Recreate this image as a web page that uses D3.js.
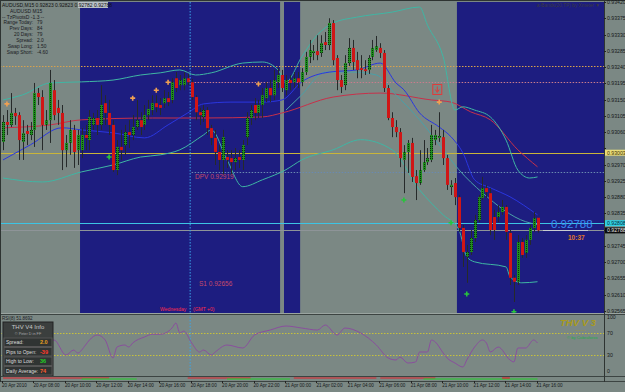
<!DOCTYPE html>
<html>
<head>
<meta charset="utf-8">
<script src="https://cdn.jsdelivr.net/npm/d3@7"></script>
<style>
  html, body { margin: 0; padding: 0; background: #7b8884; }
  svg { display: block; font-family: "Liberation Sans", Arial, sans-serif; }
</style>
</head>
<body>
<svg id="chart" width="625" height="392"></svg>
<script>
// AUDUSD M15, 20 Apr 2010 06:00 -> 21 Apr 16:00, one entry per bar
const open = [0.93033,0.93088,0.93080,0.93113,0.93107,0.93033,0.93063,0.93052,0.93066,0.93168,
  0.93157,0.93080,0.93093,0.93176,0.93127,0.93113,0.93010,0.93030,0.93066,0.93010,
  0.93010,0.93052,0.93038,0.93080,0.93099,0.93080,0.93140,0.93113,0.93080,0.92955,
  0.93019,0.93024,0.93060,0.93052,0.93074,0.93093,0.93080,0.93107,0.93121,0.93140,
  0.93135,0.93140,0.93154,0.93149,0.93209,0.93190,0.93190,0.93209,0.93198,0.93157,
  0.93115,0.93102,0.93121,0.93071,0.93044,0.93005,0.92983,0.92991,0.92988,0.92977,
  0.92991,0.92983,0.93046,0.93099,0.93135,0.93113,0.93135,0.93154,0.93182,0.93162,
  0.93198,0.93218,0.93176,0.93204,0.93198,0.93209,0.93198,0.93226,0.93268,0.93279,
  0.93284,0.93279,0.93309,0.93301,0.93362,0.93265,0.93204,0.93190,0.93251,0.93293,
  0.93259,0.93237,0.93234,0.93232,0.93268,0.93287,0.93293,0.93279,0.93182,0.93099,
  0.93074,0.93060,0.92983,0.93005,0.93030,0.92938,0.92919,0.92955,0.92977,0.92983,
  0.93038,0.93044,0.93046,0.92988,0.92908,0.92919,0.92880,0.92795,0.92715,0.92728,
  0.92767,0.92817,0.92878,0.92905,0.92891,0.92825,0.92825,0.92839,0.92853,0.92781,
  0.92657,0.92646,0.92756,0.92726,0.92762,0.92795,0.92823];
const high = [0.93107,0.93121,0.93168,0.93127,0.93115,0.93093,0.93080,0.93088,0.93196,0.93182,
  0.93176,0.93121,0.93232,0.93204,0.93149,0.93135,0.93052,0.93093,0.93080,0.93066,
  0.93071,0.93080,0.93121,0.93113,0.93121,0.93190,0.93162,0.93149,0.93093,0.93038,
  0.93066,0.93080,0.93093,0.93107,0.93149,0.93115,0.93135,0.93149,0.93162,0.93162,
  0.93154,0.93176,0.93171,0.93209,0.93226,0.93218,0.93226,0.93221,0.93207,0.93162,
  0.93127,0.93135,0.93129,0.93080,0.93066,0.93024,0.93066,0.93010,0.93010,0.93016,
  0.93010,0.93038,0.93115,0.93135,0.93154,0.93149,0.93182,0.93198,0.93204,0.93232,
  0.93237,0.93232,0.93218,0.93218,0.93226,0.93226,0.93237,0.93282,0.93315,0.93301,
  0.93328,0.93328,0.93337,0.93375,0.93370,0.93273,0.93218,0.93273,0.93320,0.93315,
  0.93282,0.93273,0.93259,0.93273,0.93315,0.93326,0.93306,0.93287,0.93190,0.93115,
  0.93093,0.93071,0.93024,0.93038,0.93044,0.92955,0.93010,0.93038,0.93016,0.93080,
  0.93066,0.93115,0.93066,0.92997,0.92927,0.92933,0.92886,0.92803,0.92748,0.92789,
  0.92831,0.92886,0.92936,0.92914,0.92905,0.92845,0.92858,0.92872,0.92858,0.92789,
  0.92665,0.92775,0.92767,0.92775,0.92803,0.92839,0.92823];
const low = [0.93010,0.93052,0.93074,0.93080,0.92983,0.92983,0.93024,0.93038,0.93019,0.93135,
  0.93010,0.93066,0.93030,0.93093,0.93080,0.92955,0.92963,0.92997,0.92961,0.92969,
  0.92988,0.93010,0.93010,0.93066,0.93052,0.93066,0.93080,0.93052,0.92950,0.92941,
  0.92983,0.92997,0.93016,0.93038,0.93066,0.93052,0.93066,0.93093,0.93107,0.93115,
  0.93107,0.93127,0.93132,0.93140,0.93171,0.93176,0.93176,0.93190,0.93149,0.93093,
  0.93080,0.93088,0.93052,0.93024,0.92969,0.92955,0.92941,0.92961,0.92941,0.92955,
  0.92961,0.92955,0.93024,0.93080,0.93093,0.93099,0.93099,0.93143,0.93143,0.93149,
  0.93182,0.93171,0.93162,0.93176,0.93182,0.93182,0.93187,0.93218,0.93251,0.93259,
  0.93259,0.93268,0.93287,0.93287,0.93245,0.93176,0.93168,0.93176,0.93243,0.93232,
  0.93209,0.93209,0.93218,0.93221,0.93259,0.93282,0.93265,0.93171,0.93093,0.93046,
  0.93046,0.92963,0.92891,0.92947,0.92922,0.92872,0.92914,0.92950,0.92969,0.92977,
  0.93024,0.93033,0.92969,0.92900,0.92886,0.92858,0.92784,0.92687,0.92643,0.92720,
  0.92756,0.92811,0.92872,0.92878,0.92775,0.92762,0.92811,0.92831,0.92762,0.92637,
  0.92590,0.92637,0.92712,0.92712,0.92748,0.92784,0.92782];
const close = [0.93088,0.93080,0.93113,0.93104,0.93038,0.93057,0.93055,0.93066,0.93168,0.93157,
  0.93080,0.93093,0.93196,0.93107,0.93113,0.93010,0.93030,0.93066,0.93005,0.93052,
  0.93052,0.93044,0.93102,0.93099,0.93080,0.93135,0.93113,0.93080,0.92955,0.93019,
  0.93010,0.93060,0.93052,0.93074,0.93093,0.93074,0.93107,0.93124,0.93140,0.93129,
  0.93127,0.93154,0.93143,0.93198,0.93182,0.93204,0.93209,0.93198,0.93157,0.93115,
  0.93107,0.93121,0.93071,0.93044,0.93005,0.92983,0.93046,0.92983,0.92977,0.92988,
  0.92983,0.93024,0.93099,0.93121,0.93113,0.93135,0.93162,0.93182,0.93162,0.93204,
  0.93218,0.93182,0.93204,0.93196,0.93209,0.93198,0.93226,0.93268,0.93287,0.93284,
  0.93273,0.93306,0.93301,0.93362,0.93259,0.93204,0.93185,0.93251,0.93293,0.93254,
  0.93232,0.93232,0.93229,0.93265,0.93293,0.93298,0.93279,0.93182,0.93099,0.93074,
  0.93060,0.92988,0.93005,0.93030,0.92936,0.92919,0.92955,0.92977,0.92988,0.93052,
  0.93052,0.93049,0.92988,0.92914,0.92914,0.92880,0.92795,0.92728,0.92728,0.92767,
  0.92817,0.92880,0.92905,0.92894,0.92789,0.92789,0.92839,0.92853,0.92784,0.92657,
  0.92646,0.92756,0.92720,0.92762,0.92795,0.92822,0.92788];

// indicator lines at selected bars
const upperIdx = [0,5,12,20,28,35,40,45,49,53,61,66,70,72,76,80,84,90,99,106,108,112,115,117,120,124,128,131,134,136];
const upperVal = [0.93149,0.93163,0.93196,0.93199,0.93204,0.93218,0.93224,0.93232,0.93218,0.93224,0.93251,0.93254,0.93232,0.93199,0.93268,0.93329,0.93362,0.93378,0.93392,0.93406,0.93356,0.93268,0.93121,0.93130,0.93121,0.93102,0.93038,0.92955,0.92933,0.92936];
const lowerIdx = [0,10,20,28,35,40,45,51,53,57,61,66,72,76,84,91,99,106,112,116,118,120,128,129,132,136];
const lowerVal = [0.92933,0.92922,0.92950,0.92969,0.92991,0.92997,0.93011,0.93052,0.93066,0.92983,0.92909,0.92928,0.92956,0.92983,0.93011,0.93039,0.93011,0.92900,0.92831,0.92790,0.92715,0.92701,0.92687,0.92660,0.92643,0.92646];
const innerIdx = [72,76,82,89,95,100,106,112,116,122,133,136];
const innerVal = [0.93121,0.93163,0.93226,0.93226,0.93218,0.93163,0.93094,0.93011,0.92956,0.92892,0.92812,0.92804];
const fastIdx = [0,7,15,20,28,36,42,47,51,58,66,71,76,83,90,96,100,102,106,111,114,117,120,124,129,136];
const fastVal = [0.92983,0.93025,0.93072,0.93066,0.93058,0.93044,0.93080,0.93113,0.93138,0.93143,0.93143,0.93149,0.93199,0.93226,0.93232,0.93251,0.93196,0.93177,0.93113,0.93074,0.93047,0.93003,0.92928,0.92906,0.92881,0.92831];
const slowIdx = [0,12,20,38,51,66,71,84,96,109,114,119,124,131,136];
const slowVal = [0.93072,0.93080,0.93094,0.93099,0.93099,0.93102,0.93113,0.93157,0.93168,0.93149,0.93143,0.93116,0.93094,0.93011,0.92964];

// RSI(8)
const rsiIdx = [0,5,10,13,16,18,19,21,22,24,26,28,29,31,32,33,36,38,40,43,44,45,46,48,50,51,53,54,57,61,64,68,72,76,80,82,85,87,91,95,98,100,101,103,105,106,108,109,110,112,113,115,117,118,120,122,123,124,126,129,130,131,133,135,136];
const rsiVal = [45,50,55,57.4,29.6,38.9,33.3,48.1,57.4,66.7,57.4,24.1,44.4,48.1,44.4,51.9,63.0,68,68,79.6,88.9,70.4,74,51.9,35.2,38.9,29.6,35.2,48.1,42.6,66.7,75.9,83.3,79.6,75.9,85.2,66.7,79.6,70.4,48.1,24.1,20.4,25.9,14.8,16.7,35.2,35.2,57.4,53.7,33.3,24.1,14.8,7.4,20.4,44.4,57.4,51.9,35.2,44.4,20.4,16.7,42.6,42.6,57.4,51.9];

// fractals
const upFracIdx = [1,33,39,42,65,111];
const upFracVal = [0.93138,0.93154,0.93176,0.93198,0.93193,0.93143];
const dnFracIdx = [27,102,114,118,130];
const dnFracVal = [0.92991,0.92872,0.92809,0.92612,0.92563];

// sessions (blue background), bar ranges
const sessStart = [19.6, 71.5, 115.5];
const sessEnd = [70.5, 75.6, 160];

// levels
const bid = 0.92788, ask = 0.92808;
const levelTop = 0.93243, levelR1 = 0.93199, levelYellow = 0.93003, levelPivotLine = 0.92950;
const pivotLabel = "DPV  0.92919", s1Label = "S1  0.92656";

const priceTicks = [0.93420,0.93375,0.93330,0.93285,0.93240,0.93195,0.93150,0.93105,0.93060,0.93015,
  0.92970,0.92925,0.92880,0.92835,0.92790,0.92745,0.92700,0.92655,0.92610,0.92565];
const rsiTicks = [100, 70, 30, 0];
const rsiLevels = [70, 30];
const timeLabels = ["20 Apr 2010","20 Apr 08:00","20 Apr 10:00","20 Apr 12:00","20 Apr 14:00","20 Apr 16:00",
  "20 Apr 18:00","20 Apr 20:00","20 Apr 22:00","21 Apr 00:00","21 Apr 02:00","21 Apr 04:00",
  "21 Apr 06:00","21 Apr 08:00","21 Apr 10:00","21 Apr 12:00","21 Apr 14:00","21 Apr 16:00"];
const timeIdx = [0,8,16,24,32,40,48,56,64,72,80,88,96,104,112,120,128,136];

// trend strip under the RSI
const trendStart = [0, 20, 47, 57, 74, 96, 107, 127];
const trendEnd = [27, 34, 63, 73, 95, 110, 136, 129];
const trendUp = [false, true, false, true, false, false, true, false];

const infoLabels = ["Range Today:", "Prev Days:", "20 Days:", "Spread:", "Swap Long:", "Swap Short:"];
const infoValues = ["79", "84", "79", "2.0", "1.50", "-4.60"];
const thvLabels = ["Spread:", "Pips to Open:", "High to Low:", "Daily Average:"];
const thvValues = ["2.0", "-39", "36", "74"];
const thvColors = ["#e8a020", "#ff3a2a", "#22d022", "#ff5a2a"];

// ---------------------------------------------------------------
const svg = d3.select("#chart");
const plotRight = 604, mainTop = 2, mainBottom = 313, subTop = 315, subBottom = 376;

const x = d3.scaleLinear().domain([0, 136]).range([3, 537.5]);
const y = d3.scaleLinear().domain([0.92565, 0.93420]).range([311, 2]);
const yR = d3.scaleLinear().domain([0, 100]).range([371, 317]);

const defs = svg.append("defs");
defs.append("clipPath").attr("id", "mainClip").append("rect")
  .attr("x", 0).attr("y", mainTop).attr("width", plotRight).attr("height", mainBottom - mainTop);
defs.append("clipPath").attr("id", "subClip").append("rect")
  .attr("x", 0).attr("y", subTop).attr("width", plotRight).attr("height", subBottom - subTop);
const pat = defs.append("pattern").attr("id", "bull").attr("width", 2).attr("height", 2)
  .attr("patternUnits", "userSpaceOnUse");
pat.append("rect").attr("width", 2).attr("height", 2).attr("fill", "#1f8c1f");
pat.append("rect").attr("width", 1).attr("height", 1).attr("fill", "#0a2e0a");

svg.append("rect").attr("width", 625).attr("height", 392).attr("fill", "#7b8884");

const main = svg.append("g").attr("clip-path", "url(#mainClip)");

// blue sessions
main.selectAll("rect.sess").data(d3.range(sessStart.length)).join("rect")
  .attr("x", i => x(sessStart[i]))
  .attr("y", mainTop)
  .attr("width", i => x(sessEnd[i]) - x(sessStart[i]))
  .attr("height", mainBottom - mainTop)
  .attr("fill", "#1d1d80");

// horizontal levels
function hline(g, price, x0, color, dash, w) {
  g.append("line").attr("x1", x0).attr("x2", plotRight)
    .attr("y1", Math.round(y(price)) + 0.5).attr("y2", Math.round(y(price)) + 0.5)
    .attr("stroke", color).attr("stroke-width", w || 1)
    .attr("stroke-dasharray", dash || null);
}
hline(main, levelTop, 0, "#d9a24c", "1.5,1.5");
hline(main, levelR1, x(48), "#c97c8c", "1.5,1.5");
hline(main, levelYellow, 0, "#c9b53a", null);
hline(main, levelPivotLine, x(48), "#6a8ab0", "1.5,1.5");
hline(main, ask, 0, "#3cc4e4", null);
hline(main, bid, 0, "#8e9498", null);

// day marker (dotted vertical)
svg.append("line").attr("x1", x(48) - 1.5).attr("x2", x(48) - 1.5)
  .attr("y1", mainTop).attr("y2", subBottom)
  .attr("stroke", "#3aa6e8").attr("stroke-dasharray", "1.5,1.5");

// indicator lines
function plotLine(g, idx, val, color, w) {
  const pts = idx.map((d, i) => [x(d), y(val[i])]);
  g.append("path").attr("d", d3.line().curve(d3.curveMonotoneX)(pts))
    .attr("fill", "none").attr("stroke", color).attr("stroke-width", w || 1);
}
plotLine(main, slowIdx, slowVal, "#c8304a", 1);
plotLine(main, upperIdx, upperVal, "#3fb6a4", 1);
plotLine(main, lowerIdx, lowerVal, "#3fb6a4", 1);
plotLine(main, innerIdx, innerVal, "#4aa0a8", 1);
plotLine(main, fastIdx, fastVal, "#2a36e0", 1);

// candles
const bars = d3.range(open.length);
main.append("g").selectAll("line").data(bars).join("line")
  .attr("x1", i => Math.round(x(i)) + 0.5).attr("x2", i => Math.round(x(i)) + 0.5)
  .attr("y1", i => y(high[i])).attr("y2", i => y(low[i]))
  .attr("stroke", "#262a2a").attr("stroke-width", 1);
main.append("g").selectAll("rect").data(bars).join("rect")
  .attr("x", i => Math.round(x(i)) - 1)
  .attr("y", i => y(Math.max(open[i], close[i])))
  .attr("width", 3)
  .attr("height", i => Math.max(1, Math.abs(y(open[i]) - y(close[i]))))
  .attr("fill", i => close[i] >= open[i] ? "url(#bull)" : "#d01616");

// fractal crosses
function cross(g, cx, cy, color) {
  g.append("path").attr("d", `M${cx - 2.5},${cy}H${cx + 2.5}M${cx},${cy - 2.5}V${cy + 2.5}`)
    .attr("stroke", color).attr("stroke-width", 1.6);
}
upFracIdx.forEach((d, i) => cross(main, x(d), y(upFracVal[i]), "#f0a052"));
dnFracIdx.forEach((d, i) => cross(main, x(d), y(dnFracVal[i]), "#28c43c"));

// red sell box
const bx = x(110.5), by = y(0.93178);
main.append("rect").attr("x", bx - 4.5).attr("y", by - 5).attr("width", 9).attr("height", 10)
  .attr("fill", "none").attr("stroke", "#e23a3a");
main.append("path").attr("d", `M${bx},${by - 3}V${by + 2}M${bx - 2},${by}L${bx},${by + 3}L${bx + 2},${by}`)
  .attr("fill", "none").attr("stroke", "#e23a3a");

// pivot texts
main.append("text").attr("x", 195).attr("y", 179).attr("font-size", 6.5).attr("fill", "#c64a6a").text(pivotLabel);
main.append("text").attr("x", 199).attr("y", 286).attr("font-size", 6.5).attr("fill", "#c64a6a").text(s1Label);
main.append("text").attr("x", 160).attr("y", 311).attr("font-size", 5).attr("fill", "#ff2a4a").text("Wednesday");
main.append("text").attr("x", 193).attr("y", 311).attr("font-size", 5).attr("fill", "#ff2a4a").text("(GMT +0)");

// top-left info
svg.append("rect").attr("x", 78).attr("y", 2).attr("width", 30).attr("height", 6).attr("fill", "#b9c0c6");
svg.append("text").attr("x", 2).attr("y", 7).attr("font-size", 5).attr("fill", "#111")
  .text("AUDUSD,M15  0.92823 0.92823 0.92782 0.92788");
svg.append("text").attr("x", 10).attr("y", 13).attr("font-size", 5).attr("fill", "#1a1a22").text("AUDUSD   M15");
svg.append("text").attr("x", 2).attr("y", 18.5).attr("font-size", 5).attr("fill", "#1a1a22").text("-- TzPivotsD -1.3 --");
infoLabels.forEach((t, i) => {
  svg.append("text").attr("x", 33).attr("y", 24 + i * 6).attr("font-size", 4.8)
    .attr("text-anchor", "end").attr("fill", "#1a1a22").text(t);
  svg.append("text").attr("x", 37).attr("y", 24 + i * 6).attr("font-size", 4.8)
    .attr("fill", "#1a1a22").text(infoValues[i]);
});
svg.append("text").attr("x", 600).attr("y", 7).attr("font-size", 4.8).attr("text-anchor", "end")
  .attr("fill", "#3a3a40").text("a-Bands(20,TP) by Xmeter  \u25BC");

// ---------------- sub window (RSI)
svg.append("line").attr("x1", 0).attr("x2", 625).attr("y1", 313.5).attr("y2", 313.5).attr("stroke", "#9aa4a0");
svg.append("line").attr("x1", 0).attr("x2", 625).attr("y1", 314.5).attr("y2", 314.5).attr("stroke", "#3c4442");
const sub = svg.append("g").attr("clip-path", "url(#subClip)");
rsiLevels.forEach(v => sub.append("line").attr("x1", 0).attr("x2", plotRight)
  .attr("y1", Math.round(yR(v)) + 0.5).attr("y2", Math.round(yR(v)) + 0.5)
  .attr("stroke", "#c8c23a").attr("stroke-dasharray", "1.5,1.5"));
sub.append("path")
  .attr("d", d3.line().curve(d3.curveMonotoneX)(rsiIdx.map((d, i) => [x(d), yR(rsiVal[i])])))
  .attr("fill", "none").attr("stroke", "#8a4e9e").attr("stroke-width", 1);
svg.append("text").attr("x", 2).attr("y", 320).attr("font-size", 4.5).attr("fill", "#1a1a22").text("RSI(8) 51.8692");

// THV V4 info box
const ib = svg.append("g");
ib.append("rect").attr("x", 3).attr("y", 322).attr("width", 50).attr("height", 54).attr("fill", "#3b3f3e").attr("stroke", "#222");
ib.append("text").attr("x", 28).attr("y", 329).attr("font-size", 6).attr("text-anchor", "middle").attr("fill", "#c8c8c8").text("THV  V4  Info");
ib.append("text").attr("x", 28).attr("y", 335).attr("font-size", 3.8).attr("text-anchor", "middle").attr("fill", "#a8a8a8").text("\u00A9 Peter D in FF");
thvLabels.forEach((t, i) => {
  const ry = 338 + i * 9.5;
  ib.append("rect").attr("x", 4).attr("y", ry).attr("width", 48).attr("height", 8.5).attr("fill", "#303433").attr("stroke", "#555");
  ib.append("text").attr("x", 6).attr("y", ry + 6).attr("font-size", 5).attr("fill", "#dcdcdc").text(t);
  ib.append("text").attr("x", 40).attr("y", ry + 6).attr("font-size", 5.5).attr("font-weight", "bold").attr("fill", thvColors[i]).text(thvValues[i]);
});

// THV V3 logo
svg.append("text").attr("x", 560).attr("y", 326).attr("font-size", 9.5).attr("font-weight", "bold")
  .attr("font-style", "italic").attr("fill", "#a89a1c").text("THV V 3");
svg.append("text").attr("x", 575).attr("y", 331).attr("font-size", 3.5).attr("fill", "#a89a1c").text("\u2014\u2014\u2014");
svg.append("text").attr("x", 567).attr("y", 339).attr("font-size", 4.2).attr("fill", "#22b04a").text("\u00A9 by Cobraforex");

// trend strip
svg.append("line").attr("x1", 0).attr("x2", 625).attr("y1", 376.5).attr("y2", 376.5).attr("stroke", "#3c4442");
trendStart.forEach((s, i) => svg.append("line")
  .attr("x1", x(s)).attr("x2", x(trendEnd[i]))
  .attr("y1", trendUp[i] ? 379 : 378).attr("y2", trendUp[i] ? 379 : 378)
  .attr("stroke", trendUp[i] ? "#22d02a" : "#e0202a").attr("stroke-width", 1.2));
svg.append("line").attr("x1", 0).attr("x2", 625).attr("y1", 381.5).attr("y2", 381.5).attr("stroke", "#3c4442");

// frame
svg.append("line").attr("x1", plotRight + 0.5).attr("x2", plotRight + 0.5).attr("y1", 0).attr("y2", 382).attr("stroke", "#2e3432");
svg.append("line").attr("x1", 0).attr("x2", 625).attr("y1", 0.5).attr("y2", 0.5).attr("stroke", "#2e3432");
svg.append("line").attr("x1", 0.5).attr("x2", 0.5).attr("y1", 0).attr("y2", 382).attr("stroke", "#2e3432");

// price axis (labels hidden where a price box sits on top of them)
const boxPrices = [levelYellow, ask, bid];
const ax = svg.append("g");
priceTicks.forEach(p => {
  ax.append("line").attr("x1", plotRight).attr("x2", plotRight + 2).attr("y1", Math.round(y(p)) + 0.5).attr("y2", Math.round(y(p)) + 0.5).attr("stroke", "#222");
  if (boxPrices.some(b => Math.abs(y(b) - y(p)) < 6.5)) return;
  ax.append("text").attr("x", 607).attr("y", y(p) + 2).attr("font-size", 5.2).attr("fill", "#16181a").text(p.toFixed(5));
});
function priceBox(p, bg, fg) {
  ax.append("rect").attr("x", 605).attr("y", y(p) - 3).attr("width", 22).attr("height", 6).attr("fill", bg);
  ax.append("text").attr("x", 607).attr("y", y(p) + 2).attr("font-size", 5.2).attr("fill", fg).text(p.toFixed(5));
}
priceBox(levelYellow, "#e8dc7a", "#3a3000");
priceBox(ask, "#30d0e2", "#0a2a3a");
priceBox(bid, "#0b0b0b", "#e8e8e8");
rsiTicks.forEach(v => {
  ax.append("text").attr("x", 607).attr("y", yR(v) + 2).attr("font-size", 5.2).attr("fill", "#16181a").text(v);
});

// big price label
svg.append("line").attr("x1", 543).attr("x2", 588).attr("y1", Math.round(y(bid)) + 0.5).attr("y2", Math.round(y(bid)) + 0.5).attr("stroke", "#c8ccd0");
svg.append("text").attr("x", 551).attr("y", 228).attr("font-size", 11.5).attr("fill", "#3a8ef2").text(bid.toFixed(5));
svg.append("text").attr("x", 568).attr("y", 240).attr("font-size", 6.5).attr("font-weight", "bold").attr("fill", "#e0782a").text("10:37");

// time axis
timeIdx.forEach((d, i) => {
  svg.append("line").attr("x1", Math.round(x(d)) - 0.5).attr("x2", Math.round(x(d)) - 0.5).attr("y1", 381).attr("y2", 383).attr("stroke", "#222");
  svg.append("text").attr("x", x(d) - 1).attr("y", 387).attr("font-size", 4.6).attr("fill", "#16181a").text(timeLabels[i]);
});
</script>
</body>
</html>
